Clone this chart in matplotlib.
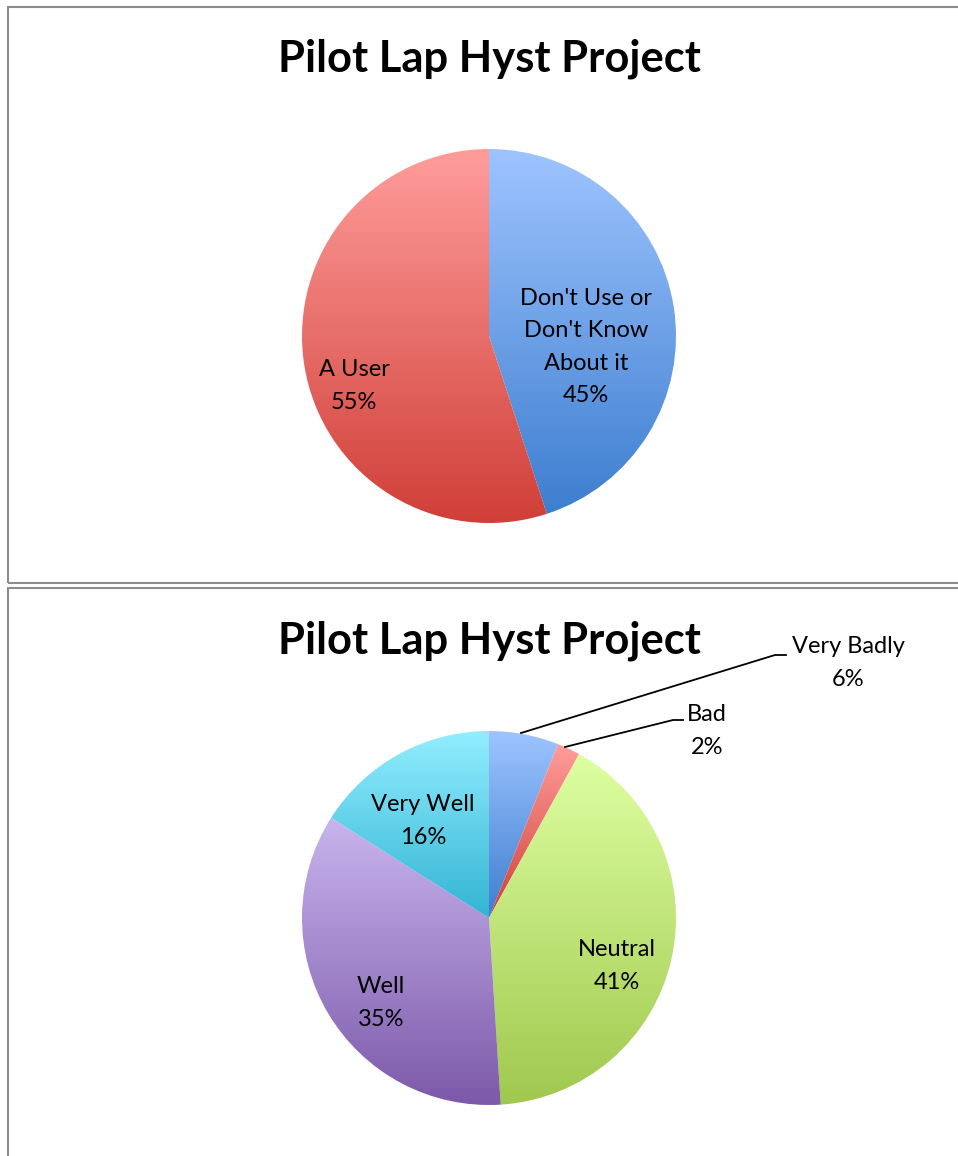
import numpy as np
import matplotlib
matplotlib.use("Agg")
import matplotlib.pyplot as plt
from matplotlib.colors import LinearSegmentedColormap
from matplotlib.patches import Rectangle

# ---- data ----
title = "Pilot Lap Hyst Project"

usage_labels = ["Don't Use or\nDon't Know\nAbout it", "A User"]
usage_values = [45, 55]
usage_top = ["#9EC4FF", "#FF9D9B"]
usage_bottom = ["#3D7ECF", "#D03F38"]

rating_labels = ["Very Badly", "Bad", "Neutral", "Well", "Very Well"]
rating_values = [6, 2, 41, 35, 16]
rating_top = ["#9EC4FF", "#FF9D9B", "#DEFFA2", "#C9B5EE", "#92EEFF"]
rating_bottom = ["#3D7ECF", "#D03F38", "#A0C84E", "#7C59A9", "#33B4D4"]

W, H = 958, 1156
fig = plt.figure(figsize=(W / 100, H / 100), dpi=100)
ax = fig.add_axes([0, 0, 1, 1])
ax.set_xlim(0, W)
ax.set_ylim(0, H)
ax.axis("off")

FONT = "Lato"
R = 187
LBL = 17
LS = 1.68


def gradient_pie(values, tops, bottoms, center):
    wedges, _ = ax.pie(values, startangle=90, counterclock=False,
                       center=center, radius=R, frame=False)
    grad = np.linspace(0, 1, 256).reshape(-1, 1)
    for w, ct, cb in zip(wedges, tops, bottoms):
        w.set_facecolor("none")
        w.set_edgecolor("none")
        ext = w.get_path().get_extents()
        cmap = LinearSegmentedColormap.from_list("g", [ct, cb])
        im = ax.imshow(grad, cmap=cmap, aspect="auto",
                       extent=(ext.x0, ext.x1, ext.y0, ext.y1),
                       origin="upper", interpolation="bilinear", zorder=1)
        im.set_clip_path(w)
    return wedges


def Y(y):
    return H - y


def pct(v, vals):
    return f"{round(100 * v / sum(vals))}%"


# panel borders
ax.add_patch(Rectangle((8, Y(583)), 1000, 576, fill=False,
                       edgecolor="#8C8C8C", lw=1.5, zorder=5))
ax.add_patch(Rectangle((8, Y(1200)), 1000, 612, fill=False,
                       edgecolor="#8C8C8C", lw=1.5, zorder=5))

# ---- top chart ----
ax.text(489, Y(59), title, ha="center", va="center", fontsize=31.3,
        fontweight="bold", family=FONT, zorder=6)
gradient_pie(usage_values, usage_top, usage_bottom, (489, Y(336)))
top_pos = [(586, 347), (354, 386)]
for lab, v, (x, y) in zip(usage_labels, usage_values, top_pos):
    ax.text(x, Y(y), f"{lab}\n{pct(v, usage_values)}", ha="center",
            va="center", fontsize=LBL, family=FONT, linespacing=LS,
            zorder=6)

# ---- bottom chart ----
ax.text(489, Y(641), title, ha="center", va="center", fontsize=31.3,
        fontweight="bold", family=FONT, zorder=6)
gradient_pie(rating_values, rating_top, rating_bottom, (489, Y(918)))
bot_pos = [(848, 663), (707, 731), (617, 966), (381, 1003), (423, 821)]
for lab, v, (x, y) in zip(rating_labels, rating_values, bot_pos):
    ax.text(x, Y(y), f"{lab}\n{pct(v, rating_values)}", ha="center",
            va="center", fontsize=LBL, family=FONT, linespacing=LS,
            zorder=6)

# leader lines for small slices
ax.plot([521, 775, 786], [Y(733), Y(655), Y(655)], color="black", lw=1.3,
        zorder=6)
ax.plot([565, 673, 683], [Y(747), Y(720), Y(720)], color="black", lw=1.3,
        zorder=6)

ax.set_xlim(0, W)
ax.set_ylim(0, H)
fig.savefig("out.png", dpi=100)
